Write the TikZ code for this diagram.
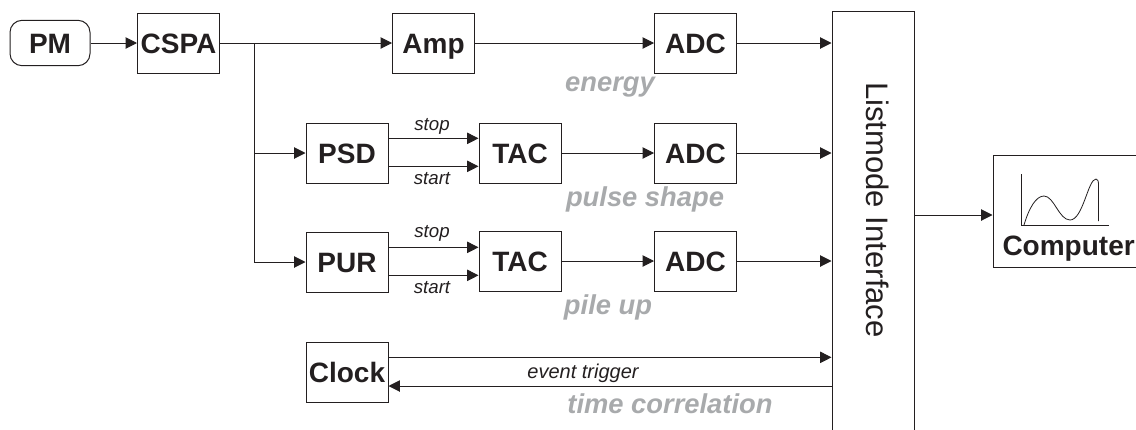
\documentclass[tikz,border=0pt]{standalone}
\usepackage{fontspec}
\setmainfont{Liberation Sans}
\usetikzlibrary{arrows.meta}

\definecolor{inkline}{RGB}{35,31,32}
\definecolor{inkgrey}{RGB}{168,170,172}

\tikzset{every picture/.style={line width=0.75pt}}
\tikzset{
    blockbox/.style={draw=inkline,fill=white,minimum width=61.5pt,minimum height=45pt,inner sep=0pt,text height=15pt,text depth=0pt,text=inkline,font=\fontsize{21}{21}\selectfont\bfseries},
    flow/.style={draw=inkline,-{Triangle[length=8.5pt,width=8.5pt]}},
    wire/.style={draw=inkline},
    smalllabel/.style={inner sep=0pt,text=inkline,font=\fontsize{14}{14}\selectfont\itshape},
    greylabel/.style={inner sep=0pt,text=inkgrey,font=\fontsize{20.5}{20.5}\selectfont\bfseries\itshape}
}

\begin{document}
\begin{tikzpicture}[x=0.75pt,y=0.75pt,yscale=-1,xscale=1]
    \useasboundingbox (0,0) rectangle (1136,429);
    \clip (0,0) rectangle (1136,429);

    % Blocks
    \node (pm) [blockbox,rounded corners=9pt,minimum width=60pt,minimum height=34pt] at (50,43) {PM};
    \node (cspa) [blockbox] at (178.5,43) {CSPA};
    \node (amp) [blockbox] at (433.5,43) {Amp};
    \node (psd) [blockbox] at (347,153) {PSD};
    \node (taca) [blockbox] at (520,153) {TAC};
    \node (pur) [blockbox] at (347,262) {PUR};
    \node (tacb) [blockbox] at (520,261) {TAC};
    \node (adca) [blockbox] at (695.5,43) {ADC};
    \node (adcb) [blockbox] at (695.5,153) {ADC};
    \node (adcc) [blockbox] at (695.5,261) {ADC};
    \node (clock) [blockbox] at (347,372) {Clock};
    \node (iface) [blockbox,minimum height=330pt] at (873,231) {};
    \node (ifacetext) [inner sep=0pt,rotate=-90,text=inkline,font=\fontsize{23.3}{23.3}\selectfont] at (878,210) {Listmode Interface};
    \node (computer) [blockbox,minimum width=111pt,minimum height=84pt] at (1067,211) {};
    \node (computertext) [inner sep=0pt,anchor=west,text=inkline,font=\fontsize{21}{21}\selectfont\bfseries] at (1002,249) {Computer};

    % Upper path
    \coordinate (tap) at (254,43);
    \draw [flow] (pm.east) -- (cspa.west);
    \draw [flow] (cspa.east) -- (amp.west);
    \draw [flow] (amp.east) -- (adca.west);
    \draw [wire] (tap) -- (tap |- pur.west);
    \draw [flow] (tap |- psd.west) -- (psd.west);
    \draw [flow] (tap |- pur.west) -- (pur.west);

    % Stop and start lines
    \foreach \from/\to in {psd/taca,pur/tacb}{
        \draw [flow] ([yshift=-11pt]\from.east) -- ([yshift=-11pt]\from.east -| \to.west);
        \draw [flow] ([yshift=10pt]\from.east) -- ([yshift=10pt]\from.east -| \to.west);
    }
    \draw [flow] (taca.east) -- (adcb.west);
    \draw [flow] (tacb.east) -- (adcc.west);

    % Into the interface
    \foreach \from in {adca,adcb,adcc}{
        \draw [flow] (\from.east) -- (\from.east -| iface.west);
    }
    \coordinate (clocktop) at ([yshift=-11pt]clock.east);
    \coordinate (clockbottom) at ([yshift=10.5pt]clock.east);
    \coordinate (ifaceout) at (iface.east |- 0,215);
    \draw [flow] (clocktop) -- (clocktop -| iface.west);
    \draw [flow] (clockbottom -| iface.west) -- (clockbottom);
    \draw [flow] (ifaceout) -- (ifaceout -| computer.west);

    % Spectrum inside the computer
    \draw [wire] (1021.5,174) -- (1021.5,225.5) -- (1109,225.5);
    \draw [wire,line width=0.6pt] (1024,225) .. controls (1029,208) and (1036,196) .. (1044,196) .. controls (1054,196) and (1059,220) .. (1070,220) .. controls (1083,220) and (1088,179) .. (1096,179) .. controls (1098,179) and (1098.5,181) .. (1098.5,186) -- (1098.5,221);

    % Text Node
    \node (stopa) [smalllabel] at (432,126) {stop};
    \node (starta) [smalllabel] at (432,179) {start};
    \node (stopb) [smalllabel] at (432,233) {stop};
    \node (startb) [smalllabel] at (432,288) {start};
    \node (trigger) [smalllabel,font=\fontsize{15}{15}\selectfont\itshape] at (583,373) {event trigger};
    \node (energy) [greylabel] at (610,87) {energy};
    \node (pulseshape) [greylabel] at (645,199) {pulse shape};
    \node (pileup) [greylabel] at (608,307) {pile up};
    \node (timecorr) [greylabel] at (670,404) {time correlation};
\end{tikzpicture}
\end{document}
